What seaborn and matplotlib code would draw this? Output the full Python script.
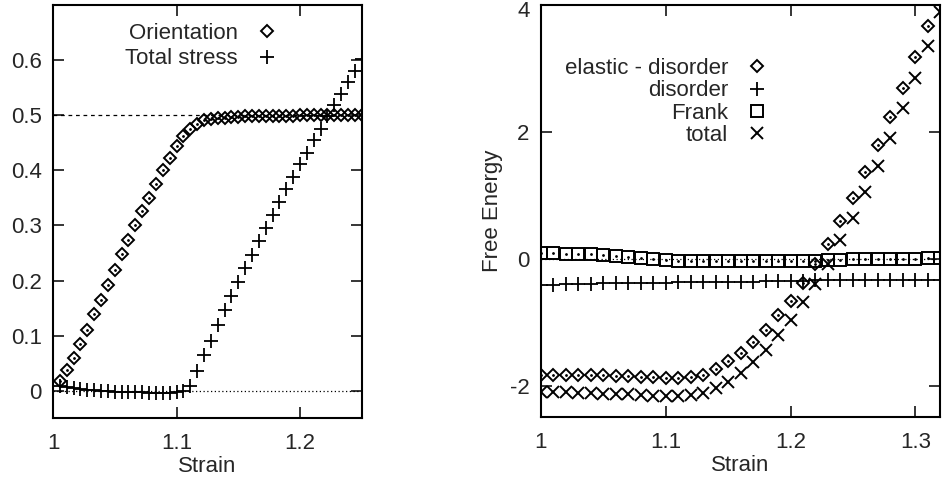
import numpy as np
import pandas as pd
import seaborn as sns
import matplotlib.pyplot as plt
from matplotlib.transforms import ScaledTranslation

# ---------------------------------------------------------------- data: left panel
strain_left = [1.0056, 1.0111, 1.0167, 1.0222, 1.0278, 1.0333, 1.0389, 1.0444, 1.05,
               1.0556, 1.0611, 1.0667, 1.0722, 1.0778, 1.0833, 1.0889, 1.0944, 1.1,
               1.1056, 1.1111, 1.1167, 1.1222, 1.1278, 1.1333, 1.1389, 1.1444, 1.15,
               1.1556, 1.1611, 1.1667, 1.1722, 1.1778, 1.1833, 1.1889, 1.1944, 1.2,
               1.2056, 1.2111, 1.2167, 1.2222, 1.2278, 1.2333, 1.2389, 1.2444, 1.25]
orientation = [0.017, 0.038, 0.060, 0.084, 0.111, 0.139, 0.164, 0.191, 0.219,
               0.248, 0.274, 0.300, 0.326, 0.350, 0.376, 0.400, 0.422, 0.444,
               0.462, 0.476, 0.485, 0.491, 0.494, 0.495, 0.496, 0.497, 0.497,
               0.498, 0.498, 0.498, 0.499, 0.499, 0.499, 0.499, 0.499, 0.5,
               0.5, 0.5, 0.5, 0.5, 0.5, 0.5, 0.5, 0.5, 0.5]
total_stress = [0.008, 0.007, 0.005, 0.003, 0.002, 0.001, 0.0, -0.001, -0.002,
                -0.002, -0.003, -0.003, -0.003, -0.004, -0.004, -0.004, -0.004, -0.003,
                -0.001, 0.008, 0.035, 0.064, 0.091, 0.119, 0.147, 0.172, 0.198,
                0.223, 0.247, 0.271, 0.295, 0.319, 0.342, 0.366, 0.388, 0.411,
                0.432, 0.455, 0.476, 0.498, 0.518, 0.539, 0.560, 0.581, 0.602]

# ---------------------------------------------------------------- data: right panel
strain_right = [1.00, 1.01, 1.02, 1.03, 1.04, 1.05, 1.06, 1.07, 1.08, 1.09, 1.10,
                1.11, 1.12, 1.13, 1.14, 1.15, 1.16, 1.17, 1.18, 1.19, 1.20, 1.21,
                1.22, 1.23, 1.24, 1.25, 1.26, 1.27, 1.28, 1.29, 1.30, 1.31, 1.32]
elastic_disorder = [-1.84, -1.83, -1.83, -1.84, -1.84, -1.84, -1.85, -1.85, -1.86, -1.87, -1.88,
                    -1.88, -1.86, -1.83, -1.74, -1.62, -1.49, -1.32, -1.13, -0.89, -0.66, -0.38,
                    -0.08, 0.24, 0.59, 0.96, 1.37, 1.79, 2.24, 2.70, 3.18, 3.68, 4.2]
disorder = [-0.41, -0.41, -0.40, -0.40, -0.40, -0.39, -0.39, -0.39, -0.38, -0.38, -0.38,
            -0.37, -0.37, -0.37, -0.36, -0.36, -0.36, -0.36, -0.35, -0.35, -0.35, -0.35,
            -0.34, -0.34, -0.34, -0.34, -0.34, -0.33, -0.33, -0.33, -0.33, -0.33, -0.33]
frank = [0.09, 0.09, 0.08, 0.08, 0.07, 0.06, 0.05, 0.03, 0.02, 0.0, -0.02,
         -0.03, -0.03, -0.03, -0.03, -0.03, -0.03, -0.03, -0.03, -0.03, -0.03, -0.03,
         -0.03, -0.02, -0.02, -0.01, -0.01, -0.01, 0.0, 0.0, 0.0, 0.01, 0.02]
total = [-2.10, -2.11, -2.11, -2.12, -2.12, -2.13, -2.14, -2.14, -2.15, -2.16, -2.17,
         -2.17, -2.15, -2.12, -2.04, -1.95, -1.80, -1.63, -1.44, -1.21, -0.96, -0.68,
         -0.40, -0.08, 0.29, 0.64, 1.05, 1.46, 1.91, 2.38, 2.86, 3.36, 3.89]

sns.set_style("ticks")
plt.rcParams['font.family'] = ['Liberation Sans', 'DejaVu Sans']
plt.rcParams['font.size'] = 16

fig = plt.figure(figsize=(9.47, 4.79), dpi=100)
ax1 = fig.add_axes([0.056, 0.127, 0.326, 0.862])
ax2 = fig.add_axes([0.571, 0.129, 0.422, 0.860])

open_kw = dict(linestyle='', color='k', markerfacecolor='none', markeredgecolor='k')

# left panel
ax1.axhline(0.5, color='k', lw=0.9, ls=(0, (3, 3)), zorder=1)
ax1.axhline(0, color='k', lw=0.9, ls=(0, (1, 2)), zorder=1)
sns.lineplot(x=strain_left, y=orientation, ax=ax1, marker='D', markersize=6.5,
             markeredgewidth=1.4, label='Orientation', **open_kw)
ax1.plot(strain_left, orientation, ls='', marker='.', ms=2, color='k')  # centre dots
sns.lineplot(x=strain_left, y=total_stress, ax=ax1, marker='+', markersize=10,
             markeredgewidth=1.3, label='Total stress', **open_kw)

ax1.set_xlim(1, 1.25)
ax1.set_ylim(-0.05, 0.70)
ax1.set_xticks([1, 1.1, 1.2])
ax1.set_xticklabels(['1', '1.1', '1.2'])
ax1.set_yticks([0, 0.1, 0.2, 0.3, 0.4, 0.5, 0.6])
ax1.set_yticklabels(['0', '0.1', '0.2', '0.3', '0.4', '0.5', '0.6'])
ax1.set_xlabel('Strain', labelpad=1)
ax1.set_ylabel('')
ax1.legend(loc='upper right', bbox_to_anchor=(0.765, 0.984), frameon=False,
           markerfirst=False, handlelength=1.0, handletextpad=0.8, borderpad=0,
           labelspacing=0.2, fontsize=16, numpoints=1)

# right panel
ax2.axhline(0, color='k', lw=0.9, ls=(0, (1, 2)), zorder=1)
sns.lineplot(x=strain_right, y=elastic_disorder, ax=ax2, marker='D', markersize=6.5,
             markeredgewidth=1.4, label='elastic - disorder', **open_kw)
sns.lineplot(x=strain_right, y=disorder, ax=ax2, marker='+', markersize=10,
             markeredgewidth=1.3, label='disorder', **open_kw)
sns.lineplot(x=strain_right, y=frank, ax=ax2, marker='s', markersize=8.5,
             markeredgewidth=1.4, label='Frank', **open_kw)
sns.lineplot(x=strain_right, y=total, ax=ax2, marker='x', markersize=8.5,
             markeredgewidth=1.4, label='total', **open_kw)
ax2.plot(strain_right, elastic_disorder, ls='', marker='.', ms=2, color='k')
ax2.plot(strain_right, frank, ls='', marker='.', ms=2, color='k')

ax2.set_xlim(1, 1.32)
ax2.set_ylim(-2.5, 4)
ax2.set_xticks([1, 1.1, 1.2, 1.3])
ax2.set_xticklabels(['1', '1.1', '1.2', '1.3'])
ax2.set_yticks([-2, 0, 2, 4])
ax2.set_yticklabels(['-2', '0', '2', '4'])
ax2.set_xlabel('Strain', labelpad=1)
ax2.set_ylabel('Free Energy', labelpad=5)
ax2.legend(loc='upper right', bbox_to_anchor=(0.597, 0.899), frameon=False,
           markerfirst=False, handlelength=1.0, handletextpad=0.8, borderpad=0,
           labelspacing=0.06, fontsize=16, numpoints=1)

for ax in (ax1, ax2):
    ax.tick_params(direction='in', length=8, width=1.3, top=True, right=True, labelsize=16)
    ax.tick_params(axis='x', pad=11)
    ax.tick_params(axis='y', pad=8)
    for sp in ax.spines.values():
        sp.set_visible(True)
        sp.set_linewidth(1.5)
        sp.set_color('k')

# keep the top "4" label inside the canvas
top_label = ax2.get_yticklabels()[-1]
top_label.set_transform(top_label.get_transform() + ScaledTranslation(0, -4 / 100, fig.dpi_scale_trans))

fig.savefig('out.png', dpi=100)
